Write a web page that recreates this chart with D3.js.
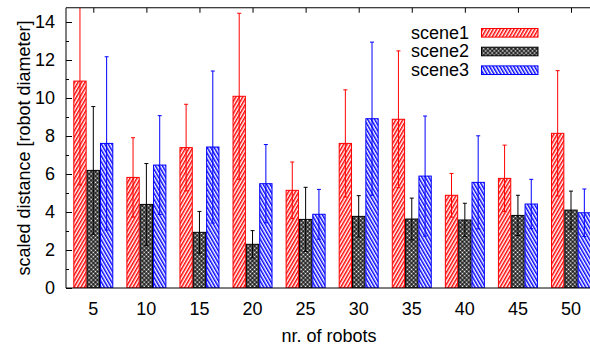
<!DOCTYPE html>
<html>
<head>
<meta charset="utf-8">
<script src="https://cdn.jsdelivr.net/npm/d3@7/dist/d3.min.js"></script>
<style>
  html, body { margin: 0; padding: 0; background: #fff; }
  svg { display: block; }
  text { font-family: "Liberation Sans", Arial, Helvetica, sans-serif; fill: #000; }
</style>
</head>
<body>
<svg id="chart" width="590" height="347"></svg>
<script>
const categories = ["5", "10", "15", "20", "25", "30", "35", "40", "45", "50"];
const seriesNames = ["scene1", "scene2", "scene3"];
const scene1Mean = [10.89, 5.82, 7.39, 10.09, 5.14, 7.61, 8.88, 4.88, 5.77, 8.14];
const scene1Err  = [5.47, 2.09, 2.28, 4.37, 1.49, 2.82, 3.60, 1.15, 1.75, 3.30];
const scene2Mean = [6.19, 4.40, 2.93, 2.30, 3.61, 3.77, 3.63, 3.58, 3.82, 4.10];
const scene2Err  = [3.36, 2.15, 1.10, 0.72, 1.69, 1.09, 1.10, 0.88, 1.06, 1.00];
const scene3Mean = [7.61, 6.47, 7.42, 5.49, 3.88, 8.91, 5.89, 5.56, 4.42, 3.96];
const scene3Err  = [4.56, 2.60, 4.00, 2.06, 1.31, 4.03, 3.16, 2.45, 1.30, 1.25];
const yMajorTicks = [0, 2, 4, 6, 8, 10, 12, 14];
const yMinorTicks = [1, 3, 5, 7, 9, 11, 13];
const xLabel = "nr. of robots";
const yLabel = "scaled distance [robot diameter]";

const colors = { scene1: "#ff0000", scene2: "#000000", scene3: "#0000ff" };
const means = { scene1: scene1Mean, scene2: scene2Mean, scene3: scene3Mean };
const errs = { scene1: scene1Err, scene2: scene2Err, scene3: scene3Err };

const pLeft = 66, pRight = 598, pTop = 7.75, pBottom = 288;
const svg = d3.select("#chart");

// patterns
const defs = svg.append("defs");
function stripePattern(id, color, angle) {
  const p = defs.append("pattern").attr("id", id)
    .attr("patternUnits", "userSpaceOnUse").attr("width", 3).attr("height", 3)
    .attr("patternTransform", `rotate(${angle})`);
  p.append("rect").attr("width", 3).attr("height", 3).attr("fill", "#fff");
  p.append("rect").attr("x", 0).attr("width", 1.5).attr("height", 3).attr("fill", color);
}
stripePattern("pat-scene1", colors.scene1, 30);
stripePattern("pat-scene3", colors.scene3, -30);
(function () {
  const p = defs.append("pattern").attr("id", "pat-scene2")
    .attr("patternUnits", "userSpaceOnUse").attr("width", 3).attr("height", 3)
    .attr("patternTransform", "rotate(45)");
  p.append("rect").attr("width", 3).attr("height", 3).attr("fill", "#000");
  p.append("rect").attr("x", 0.6).attr("y", 0.6).attr("width", 1.8).attr("height", 1.8).attr("fill", "#fff");
})();
defs.append("clipPath").attr("id", "plotclip")
  .append("rect").attr("x", pLeft).attr("y", pTop).attr("width", pRight - pLeft).attr("height", pBottom - pTop);

const x0 = d3.scalePoint().domain(categories).range([93.3, 571]);
const x1 = d3.scaleBand().domain(seriesNames).range([-20, 20]);
const y = d3.scaleLinear().domain([0, 14.75]).range([pBottom, pTop]);

// Y axis ticks (inward)
const yAxisMajor = d3.axisRight(y).tickValues(yMajorTicks).tickSize(6).tickFormat("");
const yAxisMinor = d3.axisRight(y).tickValues(yMinorTicks).tickSize(3).tickFormat("");
svg.append("g").attr("transform", `translate(${pLeft},0)`).call(yAxisMajor)
  .call(g => g.select(".domain").remove()).selectAll("line").attr("stroke", "#000");
svg.append("g").attr("transform", `translate(${pLeft},0)`).call(yAxisMinor)
  .call(g => g.select(".domain").remove()).selectAll("line").attr("stroke", "#000");

// Y tick labels
svg.append("g").selectAll("text").data(yMajorTicks).join("text")
  .attr("x", 55).attr("y", d => y(d)).attr("dy", "0.36em")
  .attr("text-anchor", "end").attr("font-size", 18).text(d => d);

// top ticks (inward) and bottom ticks
const xTop = d3.axisBottom(x0).tickSize(5).tickFormat("");
svg.append("g").attr("transform", `translate(0,${pTop})`).call(xTop)
  .call(g => g.select(".domain").remove()).selectAll("line").attr("stroke", "#000");
const xBot = d3.axisTop(x0).tickSize(5).tickFormat("");
svg.append("g").attr("transform", `translate(0,${pBottom})`).call(xBot)
  .call(g => g.select(".domain").remove()).selectAll("line").attr("stroke", "#000");

// X tick labels
svg.append("g").selectAll("text").data(categories).join("text")
  .attr("x", d => x0(d)).attr("y", 314.5)
  .attr("text-anchor", "middle").attr("font-size", 18).text(d => d);

// Bars
const plot = svg.append("g").attr("clip-path", "url(#plotclip)");
seriesNames.forEach(s => {
  const data = categories.map((c, i) => ({ c, v: means[s][i], e: errs[s][i] }));
  const g = plot.append("g");
  g.selectAll("rect").data(data).join("rect")
    .attr("x", d => x0(d.c) + x1(s) + 0.5)
    .attr("y", d => y(d.v))
    .attr("width", x1.bandwidth() - 1)
    .attr("height", d => y(0) - y(d.v))
    .attr("fill", `url(#pat-${s})`)
    .attr("stroke", colors[s]).attr("stroke-width", 1);
});
// Error bars on top
seriesNames.forEach(s => {
  const data = categories.map((c, i) => ({ c, v: means[s][i], e: errs[s][i] }));
  const g = plot.append("g").attr("stroke", colors[s]).attr("stroke-width", 1);
  data.forEach(d => {
    const cx = x0(d.c) + x1(s) + x1.bandwidth() / 2;
    g.append("line").attr("x1", cx).attr("x2", cx).attr("y1", y(d.v - d.e)).attr("y2", y(d.v + d.e));
    g.append("line").attr("x1", cx - 2).attr("x2", cx + 2).attr("y1", y(d.v + d.e)).attr("y2", y(d.v + d.e));
    g.append("line").attr("x1", cx - 2).attr("x2", cx + 2).attr("y1", y(d.v - d.e)).attr("y2", y(d.v - d.e));
  });
});

// Border
svg.append("path")
  .attr("d", `M${pRight},${pTop}H${pLeft}V${pBottom}H${pRight}`)
  .attr("fill", "none").attr("stroke", "#000").attr("stroke-width", 1);

// Legend
const legendRows = [32.8, 51.5, 70.2];
seriesNames.forEach((s, i) => {
  const cy = legendRows[i];
  svg.append("text").attr("x", 469).attr("y", cy + 5.8)
    .attr("text-anchor", "end").attr("font-size", 18).text(s);
  svg.append("rect").attr("x", 481.5).attr("y", cy - 4.3).attr("width", 56.5).attr("height", 8.6)
    .attr("fill", `url(#pat-${s})`).attr("stroke", colors[s]).attr("stroke-width", 1);
});

// Axis labels
svg.append("text").attr("x", 329).attr("y", 342)
  .attr("text-anchor", "middle").attr("font-size", 18).text(xLabel);
svg.append("text").attr("transform", `translate(30,148) rotate(-90)`)
  .attr("text-anchor", "middle").attr("font-size", 18).text(yLabel);
</script>
</body>
</html>
